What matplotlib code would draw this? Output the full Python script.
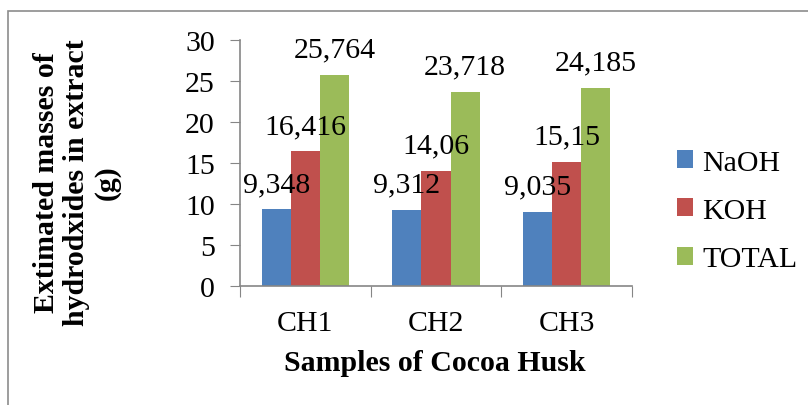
import numpy as np
import matplotlib
matplotlib.use('Agg')
import matplotlib.pyplot as plt
from matplotlib.patches import Rectangle

plt.rcParams['font.family'] = ['Liberation Serif', 'DejaVu Serif']

# data
samples = ['CH1', 'CH2', 'CH3']
naoh = [9.348, 9.312, 9.035]
koh = [16.416, 14.06, 15.15]
total = [25.764, 23.718, 24.185]
series_names = ['NaOH', 'KOH', 'TOTAL']
colors = ['#4F81BD', '#C0504D', '#9BBB59']

fs = 21.5

fig = plt.figure(figsize=(8.08, 4.06), dpi=100)
ax = fig.add_axes([240/808, 1-287/406, 392/808, 246/406])

# gray frame round the chart (cut at the right and bottom like the original)
fig.patches.append(Rectangle((8/808, -0.05), 1.1, 1-12/406+0.05, transform=fig.transFigure,
                             fill=False, edgecolor='#8c8c8c', linewidth=1.2))

ind = np.arange(len(samples))
width = 0.222
bars = []
for k, (vals, c) in enumerate(zip([naoh, koh, total], colors)):
    b = ax.bar(ind + (k-1)*width, vals, width, color=c, edgecolor='none')
    bars.append(b)
    for x, v in zip(ind + (k-1)*width, vals):
        ax.annotate(('%g' % v).replace('.', ','), (x, v), xytext=(0, 13),
                    textcoords='offset points', ha='center', va='baseline', fontsize=fs)

ax.set_xlim(-0.5, 2.5)
ax.set_ylim(0, 30)
ax.set_yticks([0, 5, 10, 15, 20, 25, 30])
ax.set_xticks([-0.5, 0.5, 1.5, 2.5])
ax.set_xticklabels([])
ax.set_xticks(ind, minor=True)
ax.set_xticklabels(samples, minor=True)
ax.tick_params(axis='x', which='minor', length=0, labelsize=fs, pad=17)
ax.tick_params(axis='x', which='major', length=8, color='#868686')
ax.tick_params(axis='y', length=7, color='#868686', labelsize=fs, pad=11)
for s in ['top', 'right']:
    ax.spines[s].set_visible(False)
for s in ['left', 'bottom']:
    ax.spines[s].set_color('#868686')
    ax.spines[s].set_linewidth(1.2)

fig.text(435/808, 1-364/406, 'Samples of Cocoa Husk', ha='center', va='center',
         fontsize=fs, fontweight='bold')
fig.text(77/808, 1-183/406, 'Extimated masses of\nhydrodxides in extract\n(g)',
         ha='center', va='center', rotation=90, fontsize=fs, fontweight='bold',
         linespacing=1.15)

fig.legend([b[0] for b in bars], series_names, loc='center left',
           bbox_to_anchor=(650/808, 1-212/406), frameon=False, fontsize=fs,
           handlelength=0.55, handleheight=0.55, handletextpad=0.3, labelspacing=0.75)

plt.savefig('out.png', dpi=100)
